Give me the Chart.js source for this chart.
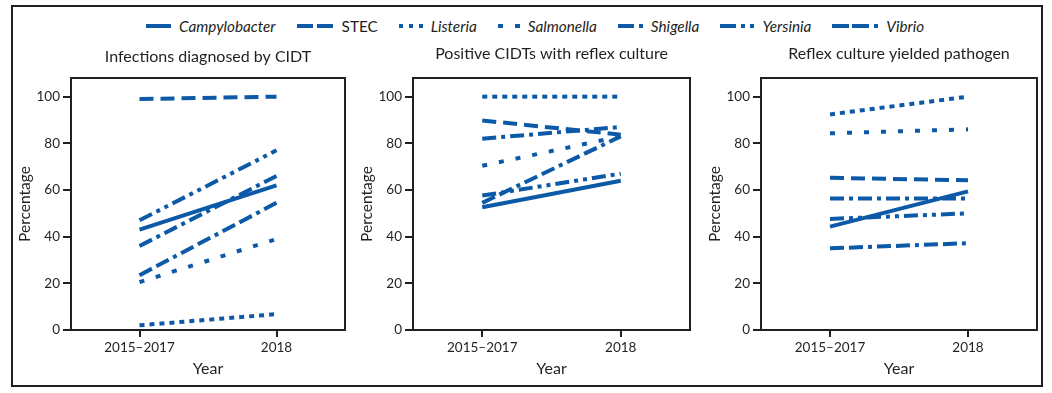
<!DOCTYPE html>
<html>
<head>
<meta charset="utf-8">
<script src="https://cdn.jsdelivr.net/npm/chart.js@4"></script>
<style>
  body { margin: 0; background: #fff; width: 1052px; height: 393px; position: relative; overflow: hidden;
         font-family: Lato, "Open Sans", sans-serif; color: #231f20; }
  #frame { position: absolute; left: 11px; top: 5px; width: 1032px; height: 382px;
           border: 2px solid #231f20; box-sizing: border-box; }
  canvas { position: absolute; top: 40px; }
  #legend { position: absolute; left: 146px; top: 17px; display: flex; align-items: center; font-size: 15.3px; }
  #legend .item { display: flex; align-items: center; margin-right: 21px; }
  #legend svg { margin-right: 8px; }
</style>
</head>
<body>
<div id="frame"></div>
<div id="legend"></div>
<canvas id="c1" width="333" height="344" style="left:14px"></canvas>
<canvas id="c2" width="338" height="344" style="left:356px"></canvas>
<canvas id="c3" width="336" height="344" style="left:704px"></canvas>
<script>
// categories
const years = ['2015–2017', '2018'];
const pathogens = ['Campylobacter', 'STEC', 'Listeria', 'Salmonella', 'Shigella', 'Yersinia', 'Vibrio'];
const italicName = [true, false, true, true, true, true, true];

// % of infections diagnosed by CIDT
const diagnosed1517 = [43, 99, 2, 20.5, 36, 47, 23.5];
const diagnosed2018 = [62, 100, 6.8, 39, 66, 77, 54.5];
// % of positive CIDTs with reflex culture
const reflex1517 = [52.6, 89.8, 100, 70.4, 82, 57.6, 54.5];
const reflex2018 = [64, 83.7, 100, 83, 87, 67, 83];
// % of reflex cultures that yielded the pathogen
const yielded1517 = [44.3, 65.2, 92.4, 84.3, 56.4, 47.6, 35];
const yielded2018 = [59.4, 64.2, 100, 86, 56.4, 50, 37.2];

const yTicks = [0, 20, 40, 60, 80, 100];

// line styles
const blue = '#0b59a7';
const ink = '#231f20';
const dashes = [[], [14, 7], [5, 5], [5, 12], [14, 5, 4, 5], [14, 5, 4, 5, 4, 5], [14, 5, 14, 5, 4, 5]];
const legendDashes = [[], [16, 4], [4, 6], [5, 12], [16, 5, 4, 5], [16, 5, 4, 5, 4, 5], [17, 3, 17, 5, 4, 5]];
const legendWidths = [25, 37, 24, 22, 25, 34, 46];

const FONT = 'Lato, "Open Sans", sans-serif';

// ─── Legend ──────────────────────────────────────────────────────────────
const legend = document.getElementById('legend');
pathogens.forEach((name, i) => {
  const w = legendWidths[i];
  const item = document.createElement('div');
  item.className = 'item';
  item.innerHTML =
    `<svg width="${w}" height="8"><line x1="0" y1="4" x2="${w}" y2="4" stroke="${blue}" stroke-width="4"` +
    (legendDashes[i].length ? ` stroke-dasharray="${legendDashes[i].join(' ')}"` : '') + `/></svg>` +
    `<span style="font-style:${italicName[i] ? 'italic' : 'normal'}">${name}</span>`;
  legend.appendChild(item);
});

// ─── Plugins ─────────────────────────────────────────────────────────────
const boxPlugin = {
  id: 'box',
  afterDraw(chart) {
    const a = chart.chartArea, ctx = chart.ctx;
    ctx.save();
    ctx.strokeStyle = ink;
    ctx.lineWidth = 2;
    ctx.strokeRect(a.left, a.top, a.right - a.left, a.bottom - a.top);
    ctx.restore();
  },
};
const titlePlugin = {
  id: 'panelTitle',
  afterDraw(chart, args, opts) {
    const a = chart.chartArea, ctx = chart.ctx;
    ctx.save();
    ctx.font = `16px ${FONT}`;
    ctx.fillStyle = ink;
    ctx.textAlign = 'center';
    ctx.textBaseline = 'middle';
    ctx.fillText(opts.text, (a.left + a.right) / 2, opts.y);
    ctx.restore();
  },
};

// ─── Panels ──────────────────────────────────────────────────────────────
function makePanel(id, title, titleY, rightPad, v0, v1) {
  return new Chart(document.getElementById(id), {
    type: 'line',
    data: {
      labels: years,
      datasets: pathogens.map((p, i) => ({
        label: p,
        data: [v0[i], v1[i]],
        borderColor: blue,
        borderWidth: 4,
        borderDash: dashes[i],
        borderCapStyle: 'butt',
        pointRadius: 0,
        fill: false,
        tension: 0,
      })),
    },
    options: {
      responsive: false,
      animation: false,
      events: [],
      layout: { padding: { top: 38, right: rightPad, left: 0, bottom: 0 } },
      plugins: {
        legend: { display: false },
        tooltip: { enabled: false },
        panelTitle: { text: title, y: titleY },
      },
      scales: {
        x: {
          offset: true,
          grid: { offset: false, drawOnChartArea: false, tickLength: 7, color: ink, lineWidth: 2 },
          border: { color: ink, width: 2 },
          ticks: { color: ink, font: { family: FONT, size: 13.5 }, padding: 3, maxRotation: 0 },
          title: { display: true, text: 'Year', color: ink, font: { family: FONT, size: 16 }, padding: { top: 0, bottom: 6 } },
          afterFit(s) { s.height = 54; },
        },
        y: {
          min: 0,
          max: 108,
          afterBuildTicks(s) { s.ticks = yTicks.map(v => ({ value: v })); },
          grid: { drawOnChartArea: false, tickLength: 8, color: ink, lineWidth: 2 },
          border: { color: ink, width: 2 },
          ticks: { color: ink, font: { family: FONT, size: 13.5 }, padding: 3 },
          title: { display: true, text: 'Percentage', color: ink, font: { family: FONT, size: 15.5 }, padding: { top: 2, bottom: 0 } },
          afterFit(s) { s.width = 57; },
        },
      },
    },
    plugins: [boxPlugin, titlePlugin],
  });
}

makePanel('c1', 'Infections diagnosed by CIDT', 17, 2, diagnosed1517, diagnosed2018);
makePanel('c2', 'Positive CIDTs with reflex culture', 14, 4, reflex1517, reflex2018);
makePanel('c3', 'Reflex culture yielded pathogen', 14, 3, yielded1517, yielded2018);
</script>
</body>
</html>
